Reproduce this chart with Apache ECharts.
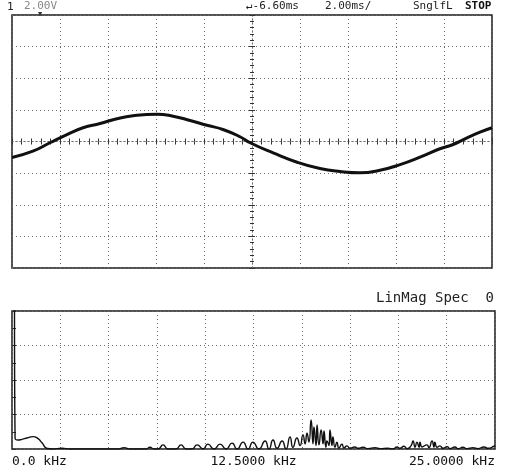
<!DOCTYPE html>
<html>
<head>
<meta charset="utf-8">
<script src="https://cdn.jsdelivr.net/npm/echarts@6/dist/echarts.min.js"></script>
<style>
  html, body { margin: 0; padding: 0; background: #fff; }
  #chart { width: 507px; height: 474px; }
</style>
</head>
<body>
<div id="chart"></div>
<script>
// channel 1 trace, time in ms (screen centre = 0), volts
var traceTime = [-10, -9.13, -8.42, -7.71, -7.04, -6.33, -5.63, -4.96, -3.96, -3.29, -2.58, -1.88, -1.21, -0.5,
  -0.08, 0.88, 1.88, 2.83, 3.67, 4.5, 5.33, 6.17, 7.0, 7.83, 8.38, 8.96, 9.5, 10];
var traceVolts = [-1.01, -0.61, -0.08, 0.44, 0.87, 1.14, 1.44, 1.63, 1.73, 1.6, 1.33, 1.03, 0.76, 0.3,
  -0.08, -0.72, -1.31, -1.71, -1.9, -1.98, -1.82, -1.46, -0.99, -0.46, -0.19, 0.23, 0.59, 0.87];

// spectrum, frequency in kHz, linear magnitude in divisions (DC is off scale)
var specFreq = [0, 0.1, 0.16, 0.31, 0.52, 0.78, 1.09, 1.35, 1.55, 1.81, 2.07, 2.59, 3.0,
  5.49, 5.8, 6.11, 6.94, 7.14, 7.35, 7.56, 7.82, 8.07, 8.49, 8.75, 9.01, 9.32, 9.58, 9.89,
  10.14, 10.46, 10.77, 11.08, 11.39, 11.65, 11.96, 12.22, 12.47, 12.78, 13.1, 13.3, 13.51, 13.72,
  13.98, 14.18, 14.39, 14.54, 14.75, 14.91, 15.06, 15.17, 15.27, 15.37, 15.48, 15.58, 15.63, 15.74,
  15.79, 15.89, 16.0, 16.1, 16.15, 16.25, 16.3, 16.41, 16.46, 16.56, 16.61, 16.72, 16.82, 16.92,
  17.08, 17.18, 17.34, 17.49, 17.75, 17.91, 18.17, 18.43, 18.79, 19.05, 19.46, 19.72, 19.93, 20.08,
  20.29, 20.45, 20.65, 20.76, 20.86, 20.96, 21.07, 21.12, 21.22, 21.48, 21.58, 21.74, 21.84, 21.89,
  22.0, 22.15, 22.31, 22.52, 22.67, 22.93, 23.09, 23.34, 23.55, 23.86, 24.12, 24.43, 24.64, 24.95, 25];
var specMag = [5, 5, 0.32, 0.26, 0.28, 0.32, 0.36, 0.3, 0.18, 0.02, 0, 0.02, 0,
  0, 0.04, 0, 0, 0.05, 0, 0, 0.12, 0, 0, 0.12, 0, 0, 0.12, 0,
  0.14, 0, 0.14, 0, 0.17, 0, 0.2, 0, 0.2, 0, 0.23, 0, 0.26, 0.02,
  0.23, 0, 0.35, 0.05, 0.32, 0.1, 0.41, 0.15, 0.46, 0.2, 0.84, 0.15, 0.64, 0.1,
  0.7, 0.12, 0.55, 0.15, 0.52, 0.05, 0.23, 0.1, 0.55, 0.1, 0.35, 0.05, 0.2, 0.03,
  0.14, 0.03, 0.09, 0.02, 0.06, 0.02, 0.05, 0.01, 0.04, 0.01, 0.02, 0, 0.06, 0.02,
  0.08, 0.01, 0.09, 0.23, 0.05, 0.2, 0.05, 0.2, 0.06, 0.12, 0.04, 0.23, 0.05, 0.2,
  0.05, 0.09, 0.02, 0.07, 0.01, 0.06, 0.01, 0.05, 0.01, 0.04, 0.01, 0.06, 0.02, 0.08, 0.1];

var freqTickValues = [0, 12.5, 25];
var freqTickLabels = ['0.0 kHz', '12.5000 kHz', '25.0000 kHz'];

var mono = 'DejaVu Sans Mono';
var dotted = { color: '#6a6a6a', type: [1, 3], width: 1 };
var tickStyle = { color: '#333', width: 1 };

function zip(a, b) {
  return a.map(function (v, i) { return [v, b[i]]; });
}

function hdr(text, left, top, style) {
  return {
    text: text, left: left, top: top, padding: 0,
    textStyle: Object.assign({ fontFamily: mono, fontSize: 11, fontWeight: 'normal', color: '#222' }, style || {})
  };
}

// axis drawn through the screen centre, with small ticks on one side
function centreX(pos) {
  return {
    gridIndex: 0, type: 'value', min: -10, max: 10, interval: 2, position: pos,
    axisLine: { show: true, onZero: true, onZeroAxisIndex: 0, lineStyle: dotted },
    axisTick: { show: true, length: 3, lineStyle: tickStyle },
    minorTick: { show: true, splitNumber: 5, length: 3, lineStyle: tickStyle },
    axisLabel: { show: false }, splitLine: { show: false }
  };
}
function centreY(pos) {
  return {
    gridIndex: 0, type: 'value', min: -8, max: 8, interval: 2, position: pos,
    axisLine: { show: true, onZero: true, onZeroAxisIndex: 0, lineStyle: dotted },
    axisTick: { show: true, length: 3, lineStyle: tickStyle },
    minorTick: { show: true, splitNumber: 5, length: 2, lineStyle: tickStyle },
    axisLabel: { show: false }, splitLine: { show: false }
  };
}

var chart = echarts.init(document.getElementById('chart'));
chart.setOption({
  animation: false,
  backgroundColor: '#fff',
  title: [
    hdr('1', 7, 2),
    hdr('2.00V', 24, 1, { color: '#888' }),
    hdr('\u25BC', 38, 11, { fontSize: 7, color: '#333' }),
    hdr('\u21B5-6.60ms', 246, 1),
    hdr('2.00ms/', 325, 1),
    hdr('SnglfL', 413, 1),
    hdr('STOP', 465, 1, { fontWeight: 'bold', color: '#111' }),
    hdr('LinMag Spec  0', 376, 291, { fontSize: 14 })
  ],
  grid: [
    { left: 12, top: 15, width: 480, height: 253, show: true, borderColor: '#1a1a1a', borderWidth: 1.5 },
    { left: 12, top: 311, width: 483, height: 138, show: true, borderColor: '#1a1a1a', borderWidth: 1.5 }
  ],
  xAxis: [
    {
      gridIndex: 0, type: 'value', min: -10, max: 10, interval: 2,
      axisLine: { show: false, onZero: false }, axisTick: { show: false }, axisLabel: { show: false },
      splitLine: { show: true, lineStyle: dotted }
    },
    centreX('bottom'),
    centreX('top'),
    {
      gridIndex: 1, type: 'value', min: 0, max: 25, interval: 2.5,
      axisLine: { show: false, onZero: false }, axisTick: { show: false },
      axisLabel: {
        show: true, margin: 6, fontFamily: mono, fontSize: 13, color: '#111',
        alignMinLabel: 'left', alignMaxLabel: 'right',
        formatter: function (v) {
          var i = freqTickValues.indexOf(v);
          return i < 0 ? '' : freqTickLabels[i];
        }
      },
      splitLine: { show: true, lineStyle: dotted }
    }
  ],
  yAxis: [
    {
      gridIndex: 0, type: 'value', min: -8, max: 8, interval: 2,
      axisLine: { show: false, onZero: false }, axisTick: { show: false }, axisLabel: { show: false },
      splitLine: { show: true, lineStyle: dotted }
    },
    centreY('left'),
    centreY('right'),
    {
      gridIndex: 1, type: 'value', min: 0, max: 4, interval: 1,
      axisLine: { show: false, onZero: false },
      axisTick: { show: true, inside: true, length: 4, lineStyle: tickStyle },
      minorTick: { show: true, splitNumber: 2, length: 4, lineStyle: tickStyle },
      axisLabel: { show: false },
      splitLine: { show: true, lineStyle: dotted }
    }
  ],
  series: [
    {
      type: 'line', xAxisIndex: 0, yAxisIndex: 0,
      data: zip(traceTime, traceVolts),
      smooth: true, symbol: 'none',
      lineStyle: { color: '#111', width: 3 }
    },
    {
      type: 'line', xAxisIndex: 3, yAxisIndex: 3,
      data: zip(specFreq, specMag),
      smooth: 0.6, symbol: 'none', clip: true,
      lineStyle: { color: '#111', width: 1.4 }
    }
  ]
});
</script>
</body>
</html>
